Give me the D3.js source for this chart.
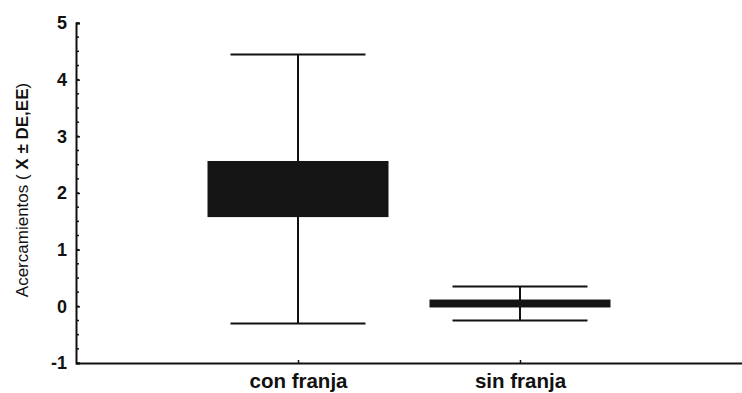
<!DOCTYPE html>
<html>
<head>
<meta charset="utf-8">
<script src="https://cdn.jsdelivr.net/npm/d3@7"></script>
<style>
  body { margin: 0; background: #fff; }
  svg { display: block; font-family: "Liberation Sans", Arial, sans-serif; }
</style>
</head>
<body>
<div id="chart"></div>
<script>
// groups and their summary stats (mean, standard error, standard deviation)
const categories = ["con franja", "sin franja"];
const means = [2.07, 0.05];
const stdErrors = [0.495, 0.07];
const stdDevs = [2.375, 0.3];
const yTicks = [-1, 0, 1, 2, 3, 4, 5];

const width = 742;
const height = 393;
const margin = { top: 23, right: 0, bottom: 30, left: 76 };

const svg = d3
  .select("#chart")
  .append("svg")
  .attr("width", width)
  .attr("height", height);

const y = d3
  .scaleLinear()
  .domain([-1, 5])
  .range([height - margin.bottom, margin.top]);

const x = d3
  .scalePoint()
  .domain(categories)
  .range([margin.left, width - margin.right])
  .padding(1);

// minor ticks every 0.25
const minor = d3.range(-1, 5.001, 0.25);
svg
  .append("g")
  .selectAll("line")
  .data(minor)
  .enter()
  .append("line")
  .attr("x1", margin.left)
  .attr("x2", margin.left + 3)
  .attr("y1", (d) => y(d))
  .attr("y2", (d) => y(d))
  .attr("stroke", "#111")
  .attr("stroke-width", 1.5);

// y axis
const yAxis = svg
  .append("g")
  .attr("transform", `translate(${margin.left},0)`)
  .call(d3.axisLeft(y).tickValues(yTicks).tickSize(-4).tickPadding(9).tickFormat((d) => String(d)));
yAxis.select(".domain").attr("stroke", "#111").attr("stroke-width", 2);
yAxis.selectAll(".tick line").attr("stroke", "#111").attr("stroke-width", 1.5);
yAxis
  .selectAll("text")
  .attr("font-size", 18)
  .attr("font-weight", "bold")
  .attr("fill", "#111");

// x axis
const xAxis = svg
  .append("g")
  .attr("transform", `translate(0,${y(-1)})`)
  .call(d3.axisBottom(x).tickSize(-3).tickPadding(10).tickSizeOuter(0));
xAxis.select(".domain").attr("stroke", "#111").attr("stroke-width", 2);
xAxis.selectAll(".tick line").attr("stroke", "#111").attr("stroke-width", 1.5);
xAxis
  .selectAll("text")
  .attr("font-size", 20.5)
  .attr("font-weight", "bold")
  .attr("fill", "#111");

// y axis title
const title = svg
  .append("text")
  .attr("transform", `translate(28,190) rotate(-90)`)
  .attr("text-anchor", "middle")
  .attr("font-size", 17)
  .attr("fill", "#111");
title.append("tspan").text("Acercamientos ( ");
title.append("tspan").attr("font-weight", "bold").text("X ± DE,EE");
title.append("tspan").text(")");

const boxW = 181;
const capW = 135;

const groups = svg
  .append("g")
  .selectAll("g")
  .data(categories)
  .enter()
  .append("g")
  .attr("transform", (d) => `translate(${x(d)},0)`);

// whisker (mean ± SD)
groups
  .append("line")
  .attr("x1", 0)
  .attr("x2", 0)
  .attr("y1", (d, i) => y(means[i] + stdDevs[i]))
  .attr("y2", (d, i) => y(means[i] - stdDevs[i]))
  .attr("stroke", "#111")
  .attr("stroke-width", 2);

groups
  .selectAll(".cap")
  .data((d, i) => [means[i] + stdDevs[i], means[i] - stdDevs[i]])
  .enter()
  .append("line")
  .attr("class", "cap")
  .attr("x1", -capW / 2)
  .attr("x2", capW / 2)
  .attr("y1", (v) => y(v))
  .attr("y2", (v) => y(v))
  .attr("stroke", "#111")
  .attr("stroke-width", 2);

// box (mean ± SE)
groups
  .append("rect")
  .attr("x", -boxW / 2)
  .attr("width", boxW)
  .attr("y", (d, i) => y(means[i] + stdErrors[i]))
  .attr("height", (d, i) => y(means[i] - stdErrors[i]) - y(means[i] + stdErrors[i]))
  .attr("fill", "#141414");
</script>
</body>
</html>
